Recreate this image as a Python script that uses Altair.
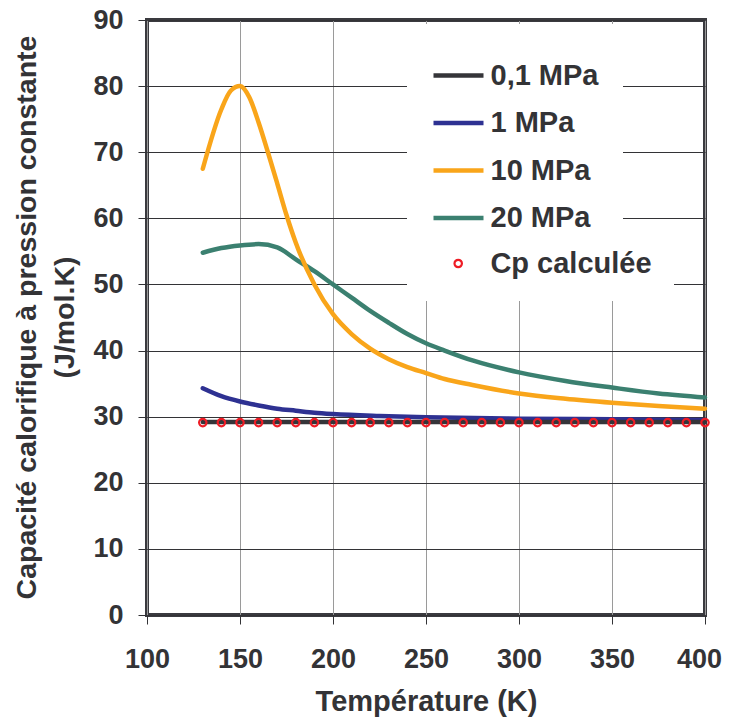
import altair as alt
import pandas as pd

# ---- data ----
line_series = ["0,1 MPa", "1 MPa", "10 MPa", "20 MPa"]
line_colors = ["#353539", "#2e3192", "#f9a51a", "#3b8070"]
calc_series = ["Cp calculée"]
calc_color = "#ee1c25"

T_01 = [130, 150, 200, 250, 300, 350, 400]
Cp_01 = [29.2, 29.2, 29.2, 29.2, 29.2, 29.2, 29.2]

T_1 = [130, 140, 150, 160, 170, 180, 190, 200, 225, 250, 300, 350, 400]
Cp_1 = [34.3, 33.1, 32.3, 31.7, 31.2, 30.9, 30.6, 30.4, 30.1, 29.9, 29.7, 29.6, 29.5]

T_10 = [130, 140, 145, 150, 155, 160, 165, 170, 175, 180, 190, 200, 210, 220,
        230, 240, 250, 260, 275, 300, 325, 350, 375, 400]
Cp_10 = [67.5, 76.5, 79.3, 80.0, 78.3, 74.5, 70.0, 65.3, 60.5, 56.3, 50.0, 45.5,
         42.5, 40.3, 38.7, 37.5, 36.6, 35.7, 34.8, 33.5, 32.7, 32.1, 31.6, 31.2]

T_20 = [130, 140, 150, 160, 170, 180, 190, 200, 210, 220, 230, 240, 250, 260,
        275, 300, 325, 350, 375, 400]
Cp_20 = [54.8, 55.5, 55.9, 56.1, 55.6, 53.8, 52.0, 50.0, 48.0, 46.0, 44.2, 42.5,
         41.1, 40.0, 38.5, 36.7, 35.4, 34.4, 33.5, 32.9]

T_calc = [130, 140, 150, 160, 170, 180, 190, 200, 210, 220, 230, 240, 250, 260,
          270, 280, 290, 300, 310, 320, 330, 340, 350, 360, 370, 380, 390, 400]
Cp_calc = [29.1, 29.1, 29.1, 29.1, 29.1, 29.1, 29.1, 29.1, 29.1, 29.1, 29.1, 29.1,
           29.1, 29.1, 29.1, 29.1, 29.1, 29.1, 29.1, 29.1, 29.1, 29.1, 29.1, 29.1,
           29.1, 29.1, 29.1, 29.1]

x_ticks = [100, 150, 200, 250, 300, 350, 400]
y_ticks = [0, 10, 20, 30, 40, 50, 60, 70, 80, 90]

# ---- tables ----
rows = []
for name, ts, vs in [("20 MPa", T_20, Cp_20), ("10 MPa", T_10, Cp_10),
                     ("1 MPa", T_1, Cp_1), ("0,1 MPa", T_01, Cp_01)]:
    for t, v in zip(ts, vs):
        rows.append({"series": name, "T": t, "Cp": v})
df_lines = pd.DataFrame(rows)
df_pts = pd.DataFrame({"series": calc_series[0], "T": T_calc, "Cp": Cp_calc})

FONT = "Liberation Sans"
TXT = "#333336"
LEG_FS = 29

x_enc = alt.X(
    "T:Q",
    scale=alt.Scale(domain=[100, 400], nice=False, zero=False),
    axis=alt.Axis(
        values=x_ticks, title="Température (K)", grid=True, gridColor="#9a9a9a",
        gridWidth=1, domain=False, tickSize=9, tickColor=TXT, tickWidth=1,
        labelFont=FONT, labelFontSize=27, labelFontWeight="bold", labelColor=TXT,
        labelPadding=22, labelFlush=False,
        labelOffset={"condition": {"test": "datum.value == 400", "value": -6}, "value": 0},
        titleFont=FONT, titleFontSize=29,
        titleFontWeight="bold", titleColor=TXT, titleY=95,
        titleAlign="center", titleBaseline="alphabetic",
    ),
)
y_enc = alt.Y(
    "Cp:Q",
    scale=alt.Scale(domain=[0, 90], nice=False),
    axis=alt.Axis(
        values=y_ticks, title=["Capacité calorifique à pression constante", "(J/mol.K)"],
        grid=True, gridColor="#333336", gridWidth=1, domain=False, tickSize=9,
        tickColor=TXT, tickWidth=1, labelFont=FONT, labelFontSize=27,
        labelFontWeight="bold", labelColor=TXT, labelPadding=15, labelFlush=False,
        titleFont=FONT, titleFontSize=28.5, titleFontWeight="bold", titleColor=TXT,
        titleAngle=270, titleX=-121, titleY=297, titleAlign="center",
        titleBaseline="middle", titleLineHeight=38,
    ),
)

legend_lines = alt.Legend(
    title=None, orient="none", legendX=260, legendY=4, fillColor="white",
    padding=24, rowPadding=4.5, symbolType="stroke", symbolSize=2500,
    symbolStrokeWidth=4.5, symbolOffset=0, labelOffset=4.5, labelLimit=300,
    labelFont=FONT, labelFontSize=LEG_FS, labelFontWeight="bold", labelColor=TXT,
)
legend_calc = alt.Legend(
    title=None, orient="none", legendX=260, legendY=207, fillColor="white",
    padding=22, symbolType="circle", symbolSize=55, symbolStrokeWidth=2.2,
    symbolStrokeColor=calc_color, symbolFillColor="transparent",
    symbolOffset=14.7, labelOffset=17.7, labelLimit=300,
    labelFont=FONT, labelFontSize=LEG_FS, labelFontWeight="bold", labelColor=TXT,
)

lines = alt.Chart(df_lines).mark_line(
    strokeWidth=4.5, strokeCap="round", strokeJoin="round", interpolate="monotone"
).encode(
    x=x_enc, y=y_enc,
    color=alt.Color("series:N", scale=alt.Scale(domain=line_series, range=line_colors),
                    legend=legend_lines),
    order="T:Q",
)

points = alt.Chart(df_pts).mark_point(
    filled=False, opacity=1, size=55, strokeWidth=2.2, color=calc_color
).encode(
    x=x_enc, y=y_enc,
    shape=alt.Shape("series:N", scale=alt.Scale(domain=calc_series, range=["circle"]),
                    legend=legend_calc),
)

chart = alt.layer(lines, points).properties(
    width=558, height=595, background="white",
    autosize=alt.AutoSizeParams(type="none"),
    padding={"left": 139, "top": 12, "right": 17, "bottom": 103},
).configure_view(
    stroke="#3a3a3f", strokeWidth=4,
)

chart.save("out.html", embed_options={"renderer": "svg", "actions": False})
